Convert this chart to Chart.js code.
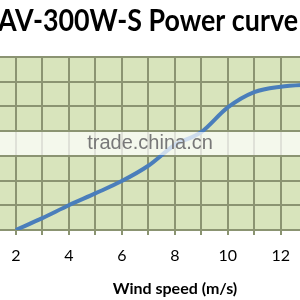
<!DOCTYPE html>
<html>
<head>
<meta charset="utf-8">
<script src="https://cdn.jsdelivr.net/npm/chart.js@4/dist/chart.umd.min.js"></script>
<style>
html,body{margin:0;padding:0;background:#fff;overflow:hidden;}
#wrap{position:absolute;left:0;top:0;width:300px;height:300px;overflow:hidden;}
#c{position:absolute;left:0;top:0;}
</style>
</head>
<body>
<div id="wrap"><canvas id="c" width="354" height="300"></canvas></div>
<script>
const titleText = "AV-300W-S Power curve";
const xTitle = "Wind speed (m/s)";
const watermark = "trade.china.cn";
const windSpeed = [2, 3, 4, 5, 6, 7, 8, 9, 10, 11, 12, 13, 14, 15];
const power = [0, 24, 50, 74, 99, 130, 172, 198, 248, 279, 290, 294, 296, 297];
const xTicks = [2, 3, 4, 5, 6, 7, 8, 9, 10, 11, 12, 13, 14];

const overlay = {
  id: 'overlay',
  afterDatasetsDraw(chart) {
    const ctx = chart.ctx;
    ctx.save();
    ctx.fillStyle = 'rgba(255,255,255,0.72)';
    ctx.fillRect(0, 132, 354, 23);
    ctx.fillStyle = '#787878';
    ctx.font = '20px "Liberation Sans", Arial, sans-serif';
    ctx.textBaseline = 'middle';
    ctx.textAlign = 'center';
    ctx.fillText(watermark, 150, 143);
    ctx.restore();
  },
  afterDraw(chart) {
    const ctx = chart.ctx;
    ctx.save();
    ctx.fillStyle = '#000';
    ctx.font = 'bold 31px Lato, "Open Sans", sans-serif';
    ctx.textBaseline = 'middle';
    ctx.textAlign = 'left';
    ctx.fillText(titleText, -2, 21, 300);
    ctx.restore();
  }
};

const bgPlugin = {
  id: 'bg',
  beforeDraw(chart) {
    const a = chart.chartArea, ctx = chart.ctx;
    ctx.save();
    ctx.fillStyle = '#d8e4bc';
    ctx.fillRect(a.left, a.top, a.right - a.left, a.bottom - a.top);
    ctx.restore();
  }
};

new Chart(document.getElementById('c'), {
  type: 'line',
  data: {
    datasets: [{
      data: windSpeed.map((x, i) => ({x: x, y: power[i]})),
      borderColor: '#4a7ebb',
      borderWidth: 4,
      pointRadius: 0,
      tension: 0.4,
      cubicInterpolationMode: 'monotone',
      fill: false
    }]
  },
  options: {
    responsive: false,
    animation: false,
    devicePixelRatio: 1,
    layout: {padding: {top: 57, left: 0, right: 0, bottom: 0}},
    plugins: {
      legend: {display: false},
      tooltip: {enabled: false},
      title: {display: false}
    },
    scales: {
      x: {
        type: 'linear',
        min: 1.403,
        max: 14.612,
        afterBuildTicks: s => { s.ticks = xTicks.map(v => ({value: v})); },
        afterFit: s => { s.height = 70; },
        ticks: {
          autoSkip: false,
          maxRotation: 0,
          color: '#000',
          font: {family: 'Lato', size: 16},
          padding: 11,
          callback: v => (v % 2 === 0 ? String(v) : '')
        },
        grid: {color: '#8b9472', lineWidth: 2, tickLength: 5},
        border: {color: '#8b9472', width: 2},
        title: {
          display: true,
          text: xTitle,
          color: '#000',
          font: {family: 'Lato', size: 16, weight: 'bold'},
          padding: {top: 0, bottom: 2}
        }
      },
      y: {
        min: 0,
        max: 350,
        afterFit: s => { s.width = 0; },
        ticks: {display: false, stepSize: 50},
        grid: {color: '#8b9472', lineWidth: 2, drawTicks: false},
        border: {display: false}
      }
    }
  },
  plugins: [bgPlugin, overlay]
});
</script>
</body>
</html>
